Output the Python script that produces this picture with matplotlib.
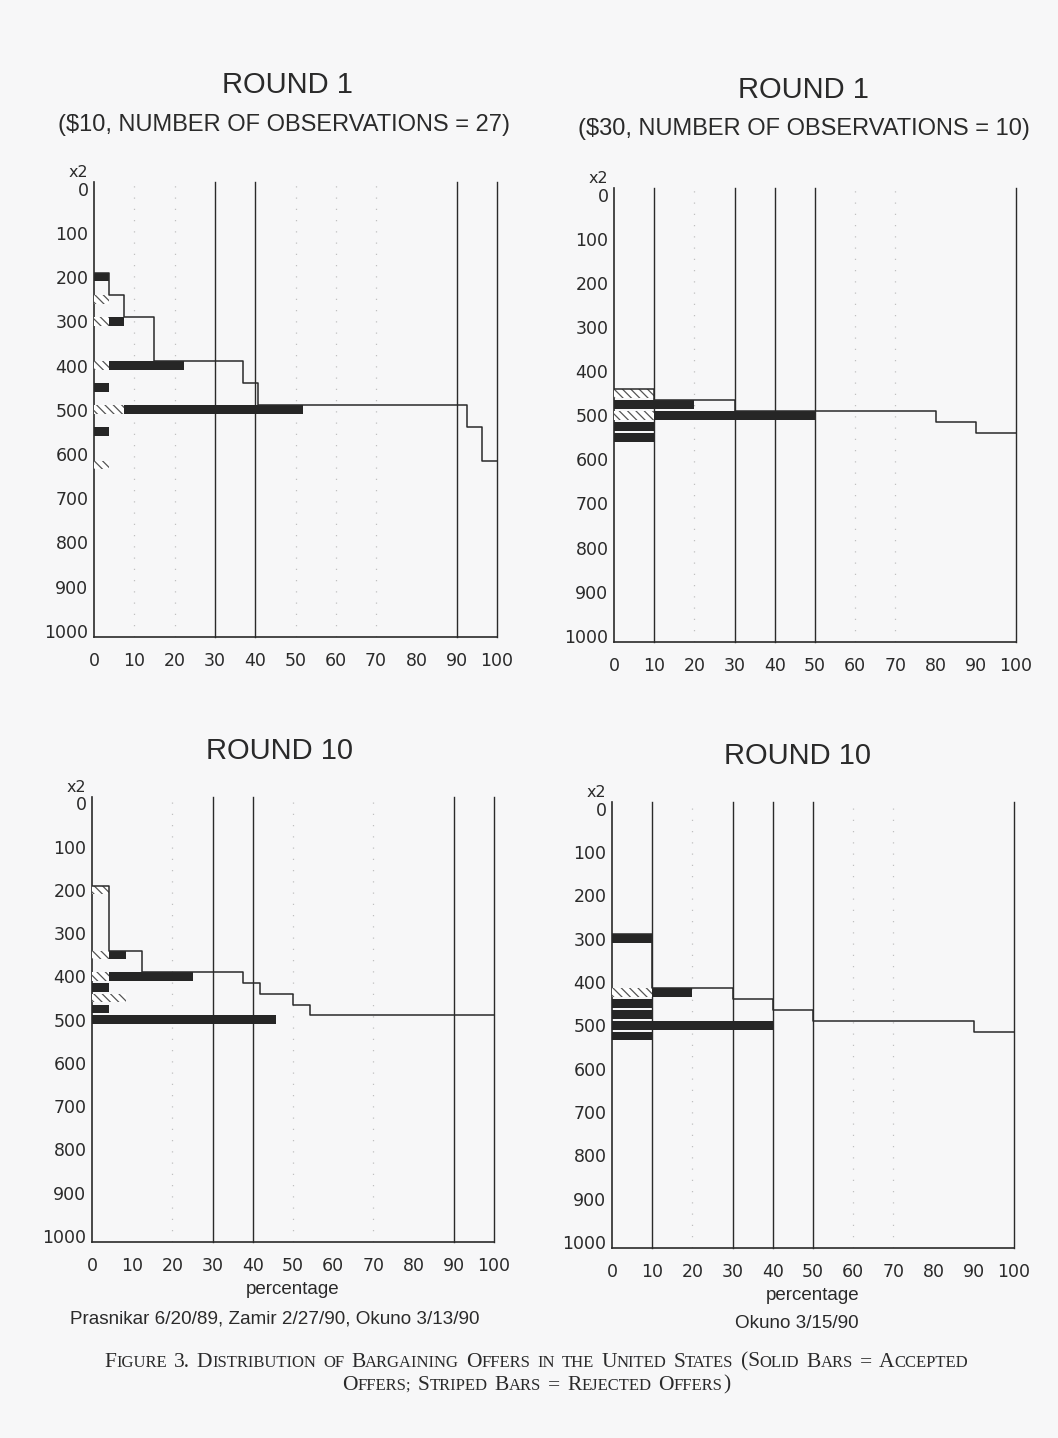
import numpy as np
import matplotlib.pyplot as plt
from matplotlib.offsetbox import TextArea, HPacker, AnchoredOffsetbox

# --- DATA ---------------------------------------------------------------------
# offer levels (x2) with number of accepted / rejected offers at each level
r1_10_offers   = [200, 250, 300, 400, 450, 500, 550, 625]
r1_10_accepted = [1, 0, 1, 5, 1, 12, 1, 0]
r1_10_rejected = [0, 1, 1, 1, 0, 2, 0, 1]
r1_10_n        = 27

r1_30_offers   = [450, 475, 500, 525, 550]
r1_30_accepted = [0, 2, 4, 1, 1]
r1_30_rejected = [1, 0, 1, 0, 0]
r1_30_n        = 10

r10_10_offers   = [200, 350, 400, 425, 450, 475, 500]
r10_10_accepted = [0, 1, 5, 1, 0, 1, 11]
r10_10_rejected = [1, 1, 1, 0, 2, 0, 0]
r10_10_n        = 24

r10_30_offers   = [300, 425, 450, 475, 500, 525]
r10_30_accepted = [1, 1, 1, 1, 4, 1]
r10_30_rejected = [0, 1, 0, 0, 0, 0]
r10_30_n        = 10

x_ticks = list(range(0, 101, 10))
y_ticks = list(range(0, 1001, 100))

# --- STYLE --------------------------------------------------------------------
W, H = 1058, 1438
INK = "#2a2a2a"
BG = "#f7f7f8"
BAR_H = 20
plt.rcParams["hatch.linewidth"] = 0.9


def fx(px):
    return px / W


def fy(py):
    return 1 - py / H


def make_axes(fig, left, right, top, bottom):
    return fig.add_axes([fx(left), fy(bottom), fx(right - left), (bottom - top) / H])


def draw_panel(ax, offers, accepted, rejected, n, solid_lines, faint_lines, xlabel=None):
    offers = np.array(offers, dtype=float)
    acc = np.array(accepted) / n * 100
    rej = np.array(rejected) / n * 100

    ax.set_facecolor("none")
    ax.set_xlim(0, 100)
    ax.set_ylim(1014, -15)

    for x in faint_lines:
        ax.axvline(x, color="#8a8a8a", lw=0.9, ls=(0, (1, 8)), alpha=0.5, zorder=1)
    for x in solid_lines:
        ax.axvline(x, color=INK, lw=1.0, zorder=2, clip_on=False)

    ax.barh(offers, rej, height=BAR_H, color="white", hatch="\\\\\\\\",
            edgecolor="#555555", linewidth=0, zorder=3)
    ax.barh(offers, acc, left=rej, height=BAR_H, color="#262626", linewidth=0, zorder=3)

    # cumulative distribution outline drawn along the bar tops
    cum = np.cumsum(acc + rej)
    tops = offers - BAR_H / 2
    ax.step(np.r_[0, cum], np.r_[tops[0], tops], where="pre", color=INK, lw=1.1, zorder=4)

    for s in ["top", "right"]:
        ax.spines[s].set_visible(False)
    for s in ["left", "bottom"]:
        ax.spines[s].set_color(INK)
        ax.spines[s].set_linewidth(1.2)

    ax.set_xticks(x_ticks)
    ax.set_yticks(y_ticks)
    ax.tick_params(length=0, labelsize=12.5, colors=INK, labelcolor=INK)
    ax.tick_params(axis="x", pad=11)
    ax.tick_params(axis="y", pad=4)
    for lab in ax.get_xticklabels() + ax.get_yticklabels():
        lab.set_family("DejaVu Sans")

    ax.annotate("x2", xy=(0, 1), xycoords="axes fraction", xytext=(-11, 7),
                textcoords="offset points", ha="center", va="center",
                fontsize=11.5, color=INK, family="DejaVu Sans")
    if xlabel:
        ax.set_xlabel(xlabel, fontsize=13.5, color=INK, family="Liberation Sans", labelpad=4)


def small_caps(fig, text, x, y, big=15.5, small=12.0):
    words = []
    for word in text.split(" "):
        runs, cur, cur_small = [], "", None
        for ch in word:
            is_small = ch.islower() or ch == ";"
            if cur and is_small != cur_small:
                runs.append((cur, cur_small))
                cur = ""
            cur += ch.upper()
            cur_small = is_small
        runs.append((cur, cur_small))
        kids = [TextArea(s, textprops=dict(fontsize=small if sm else big,
                                           family="Liberation Serif", color=INK))
                for s, sm in runs]
        words.append(HPacker(children=kids, align="baseline", pad=0, sep=0))
    line = HPacker(children=words, align="baseline", pad=0, sep=5.0)
    box = AnchoredOffsetbox(loc="center", child=line, pad=0, borderpad=0, frameon=False,
                            bbox_to_anchor=(fx(x), fy(y)), bbox_transform=fig.transFigure)
    fig.add_artist(box)


# --- FIGURE -------------------------------------------------------------------
fig = plt.figure(figsize=(W / 100, H / 100), dpi=100, facecolor=BG)

grid_10 = [30, 40, 90, 100]
grid_30 = [10, 30, 40, 50, 100]

ax1 = make_axes(fig, 94, 497, 182, 637)
draw_panel(ax1, r1_10_offers, r1_10_accepted, r1_10_rejected, r1_10_n,
           grid_10, [10, 20, 50, 60, 70])

ax2 = make_axes(fig, 614, 1016, 188, 642)
draw_panel(ax2, r1_30_offers, r1_30_accepted, r1_30_rejected, r1_30_n,
           grid_30, [20, 60, 70])

ax3 = make_axes(fig, 92, 494, 797, 1242)
draw_panel(ax3, r10_10_offers, r10_10_accepted, r10_10_rejected, r10_10_n,
           grid_10, [20, 50, 70], xlabel="percentage")

ax4 = make_axes(fig, 612, 1014, 802, 1248)
draw_panel(ax4, r10_30_offers, r10_30_accepted, r10_30_rejected, r10_30_n,
           grid_30, [20, 60, 70], xlabel="percentage")

title_kw = dict(ha="center", va="center", color=INK, family="Liberation Sans")
fig.text(fx(287), fy(85), "ROUND 1", fontsize=21, **title_kw)
fig.text(fx(284), fy(125), r"(\$10, NUMBER OF OBSERVATIONS = 27)", fontsize=17, **title_kw)
fig.text(fx(803), fy(90), "ROUND 1", fontsize=21, **title_kw)
fig.text(fx(804), fy(129), r"(\$30, NUMBER OF OBSERVATIONS = 10)", fontsize=17, **title_kw)
fig.text(fx(279), fy(751), "ROUND 10", fontsize=21, **title_kw)
fig.text(fx(797), fy(756), "ROUND 10", fontsize=21, **title_kw)

fig.text(fx(275), fy(1319), "Prasnikar 6/20/89, Zamir 2/27/90, Okuno 3/13/90",
         fontsize=13.6, **title_kw)
fig.text(fx(797), fy(1323), "Okuno 3/15/90", fontsize=13.6, **title_kw)

small_caps(fig, "Figure 3. Distribution of Bargaining Offers in the United States (Solid Bars = Accepted",
           536, 1362)
small_caps(fig, "Offers; Striped Bars = Rejected Offers)", 536, 1385)

fig.savefig("out.png", dpi=100, facecolor=BG)
